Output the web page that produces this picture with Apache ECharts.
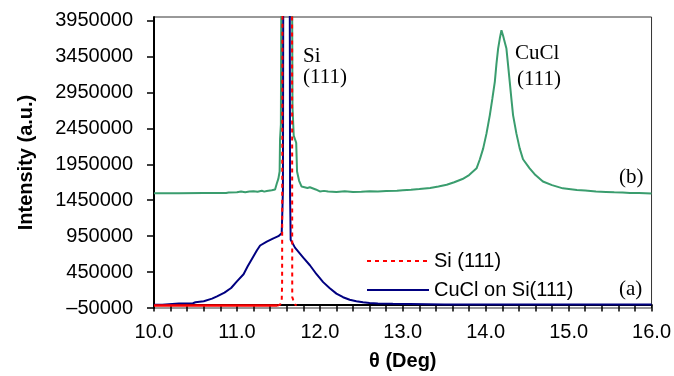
<!DOCTYPE html>
<html>
<head>
<meta charset="utf-8">
<script src="https://cdn.jsdelivr.net/npm/echarts@6.0.0/dist/echarts.min.js"></script>
<style>
  html, body { margin: 0; padding: 0; background: #fff; }
  #chart { width: 674px; height: 376px; }
</style>
</head>
<body>
<div id="chart"></div>
<script>
// tick labels
const xLabelValues = [10, 11, 12, 13, 14, 15, 16];
const xTickValues = [10.0, 10.2, 10.4, 10.6, 10.8, 11.0, 11.2, 11.4, 11.6, 11.8, 12.0, 12.2, 12.4, 12.6, 12.8,
  13.0, 13.2, 13.4, 13.6, 13.8, 14.0, 14.2, 14.4, 14.6, 14.8, 15.0, 15.2, 15.4, 15.6, 15.8, 16.0];
const yLabelValues = [-50000, 450000, 950000, 1450000, 1950000, 2450000, 2950000, 3450000, 3950000];

// (b) CuCl film, offset trace
const cuclB = [
  [10.0, 1547000], [10.3, 1547000], [10.6, 1550000], [10.83, 1550000], [10.85, 1565000], [10.87, 1552000],
  [10.9, 1558000], [11.0, 1560000], [11.05, 1572000], [11.07, 1558000], [11.1, 1562000], [11.15, 1570000],
  [11.2, 1576000], [11.22, 1562000], [11.25, 1568000], [11.3, 1582000], [11.33, 1570000], [11.36, 1578000],
  [11.42, 1590000], [11.46, 1600000], [11.48, 1680000], [11.5, 1750000], [11.515, 1850000],
  [11.52, 2300000], [11.53, 2500000], [11.536, 4500000], [11.6, 9000000], [11.665, 4500000], [11.67, 2750000],
  [11.685, 2350000], [11.715, 2250000], [11.725, 1850000], [11.75, 1720000], [11.78, 1640000], [11.85, 1620000],
  [11.88, 1630000], [11.9, 1612000], [11.95, 1600000], [12.0, 1572000], [12.05, 1580000], [12.1, 1570000],
  [12.2, 1566000], [12.3, 1574000], [12.4, 1564000], [12.5, 1568000], [12.6, 1574000], [12.7, 1570000],
  [12.8, 1580000], [12.93, 1582000], [13.0, 1590000], [13.1, 1595000], [13.2, 1605000], [13.33, 1620000],
  [13.43, 1640000], [13.53, 1665000], [13.62, 1700000], [13.72, 1745000], [13.8, 1800000], [13.89, 1894000],
  [13.93, 2020000], [13.97, 2172000], [14.01, 2380000], [14.05, 2635000], [14.08, 2860000], [14.11, 3098000],
  [14.13, 3350000], [14.15, 3561000], [14.17, 3700000], [14.19, 3815000], [14.21, 3740000], [14.23, 3650000],
  [14.25, 3561000], [14.27, 3330000], [14.29, 3098000], [14.31, 2860000], [14.33, 2635000], [14.37, 2380000],
  [14.41, 2172000], [14.45, 2020000], [14.53, 1894000], [14.6, 1800000], [14.69, 1710000], [14.8, 1660000],
  [14.93, 1615000], [15.1, 1592000], [15.2, 1585000], [15.33, 1572000], [15.45, 1566000], [15.55, 1560000],
  [15.65, 1556000], [15.74, 1550000], [15.85, 1552000], [16.0, 1545000]
];

// (a) CuCl on Si(111)
const cuclOnSi = [
  [10.0, -5000], [10.1, -5000], [10.12, 12000], [10.3, 14000], [10.47, 16000], [10.5, 30000], [10.6, 45000],
  [10.7, 80000], [10.76, 112000], [10.85, 165000], [10.93, 228000], [11.0, 320000], [11.08, 420000],
  [11.13, 530000], [11.2, 670000], [11.24, 750000], [11.28, 820000], [11.36, 875000], [11.44, 920000],
  [11.5, 950000], [11.54, 990000], [11.548, 1300000], [11.555, 1600000], [11.559, 4600000], [11.6, 9000000],
  [11.637, 4600000], [11.641, 1500000], [11.645, 1200000], [11.648, 900000], [11.7, 790000], [11.8, 650000],
  [11.88, 545000], [11.96, 420000], [12.04, 310000], [12.12, 225000], [12.2, 150000], [12.28, 100000],
  [12.36, 65000], [12.44, 45000], [12.52, 29000], [12.6, 20000], [12.7, 14000], [12.88, 10000], [12.9, -2000],
  [13.5, -2000], [16.0, -2000]
];

// Si (111) substrate reference
const siBase = [[10.0, -15000], [10.8, -15000], [11.49, -15000]];
const siPeak = [
  [11.49, -15000], [11.52, -5000], [11.54, 40000], [11.545, 300000], [11.55, 5000000], [11.61, 12000000],
  [11.665, 5000000], [11.667, 100000], [11.68, 60000], [11.7, 0], [11.72, -15000]
];

const sans = 'Liberation Sans, Arial, sans-serif';
const serif = 'Liberation Serif, Times New Roman, serif';

const chart = echarts.init(document.getElementById('chart'));
chart.setOption({
  animation: false,
  grid: {left: 154, right: 22, top: 17, bottom: 66, show: true, borderColor: '#333', borderWidth: 1},
  legend: {
    orient: 'vertical',
    left: 361,
    top: 246,
    itemWidth: 62,
    itemHeight: 14,
    itemGap: 9,
    itemStyle: {opacity: 0},
    data: ['Si (111)', 'CuCl on Si(111)'],
    textStyle: {fontFamily: sans, fontSize: 20, color: '#000'},
  },
  xAxis: {
    type: 'value',
    min: 10,
    max: 16,
    name: 'θ (Deg)',
    nameLocation: 'middle',
    nameGap: 43,
    nameTextStyle: {fontFamily: sans, fontSize: 20, fontWeight: 'bold', color: '#000'},
    axisLine: {lineStyle: {color: '#000', width: 2}},
    axisTick: {customValues: xTickValues, length: 7, lineStyle: {color: '#000', width: 1.5}},
    axisLabel: {
      customValues: xLabelValues,
      fontFamily: sans,
      fontSize: 20,
      color: '#000',
      margin: 14,
      formatter: (v) => Number(v).toFixed(1),
    },
    splitLine: {show: false},
  },
  yAxis: {
    type: 'value',
    min: -50000,
    max: 4000000,
    name: 'Intensity (a.u.)',
    nameLocation: 'middle',
    nameGap: 118,
    nameTextStyle: {fontFamily: sans, fontSize: 20, fontWeight: 'bold', color: '#000'},
    axisLine: {show: true, lineStyle: {color: '#000', width: 2}},
    axisTick: {show: true, customValues: yLabelValues, length: 7, lineStyle: {color: '#000', width: 1.5}},
    axisLabel: {
      customValues: yLabelValues,
      fontFamily: sans,
      fontSize: 20,
      color: '#000',
      margin: 21,
      formatter: (v) => (v < 0 ? '\u2013' + Math.abs(v) : String(v)),
    },
    splitLine: {show: false},
  },
  series: [
    {
      name: '(b)',
      type: 'line',
      data: cuclB,
      symbol: 'none',
      lineStyle: {color: '#3a9d6e', width: 2},
      itemStyle: {color: '#3a9d6e'},
    },
    {
      name: 'CuCl on Si(111)',
      type: 'line',
      data: cuclOnSi,
      symbol: 'none',
      lineStyle: {color: '#000080', width: 2},
      itemStyle: {color: '#000080'},
    },
    {
      name: 'Si base',
      type: 'line',
      data: siBase,
      symbol: 'none',
      lineStyle: {color: '#ff0000', width: 2.5},
      itemStyle: {color: '#ff0000'},
    },
    {
      name: 'Si (111)',
      type: 'line',
      data: siPeak,
      symbol: 'none',
      lineStyle: {color: '#ff0000', width: 2, type: [4, 4]},
      itemStyle: {color: '#ff0000'},
    },
  ],
  graphic: [
    {type: 'text', left: 303, top: 46, style: {text: 'Si', font: '21px ' + serif, fill: '#000'}},
    {type: 'text', left: 303, top: 67, style: {text: '(111)', font: '21px ' + serif, fill: '#000'}},
    {type: 'text', left: 515, top: 43, style: {text: 'CuCl', font: '21px ' + serif, fill: '#000'}},
    {type: 'text', left: 517, top: 69, style: {text: '(111)', font: '21px ' + serif, fill: '#000'}},
    {type: 'text', left: 619, top: 167, style: {text: '(b)', font: '21px ' + serif, fill: '#000'}},
    {type: 'text', left: 619, top: 279, style: {text: '(a)', font: '21px ' + serif, fill: '#000'}},
  ],
});
</script>
</body>
</html>
